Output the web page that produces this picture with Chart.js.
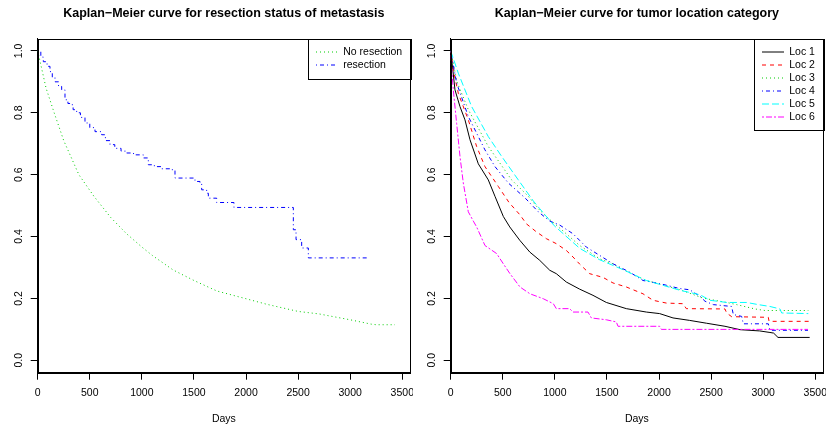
<!DOCTYPE html>
<html>
<head>
<meta charset="utf-8">
<script src="https://cdn.jsdelivr.net/npm/chart.js@4"></script>
<style>
  body { margin: 0; background: #fff; }
  .wrap { display: flex; width: 826px; height: 428px; }
  canvas { display: block; }
</style>
</head>
<body>
<div class="wrap">
  <canvas id="kmResection" width="413" height="428"></canvas>
  <canvas id="kmLocation" width="413" height="428"></canvas>
</div>
<script>
// axis ticks
const xTicks = [0, 500, 1000, 1500, 2000, 2500, 3000, 3500];
const yTicks = [0, 0.2, 0.4, 0.6, 0.8, 1.0];

// left plot: resection status
const noResDays = [0, 20, 80, 158, 250, 395, 540, 700, 850, 1000, 1100, 1300, 1500, 1720, 2000, 2200, 2500, 2700, 2840, 3000, 3200, 3250, 3430];
const noResSurv = [1, 0.97, 0.88, 0.80, 0.71, 0.60, 0.53, 0.462, 0.41, 0.366, 0.339, 0.292, 0.258, 0.224, 0.199, 0.181, 0.158, 0.150, 0.141, 0.131, 0.117, 0.115, 0.115];
const resDays = [0, 30, 54, 90, 118, 140, 166, 200, 230, 262, 290, 310, 340, 374, 410, 454, 500, 550, 614, 650, 694, 740, 800, 854, 920, 1014, 1062, 1120, 1190, 1286, 1318, 1510, 1558, 1574, 1622, 1638, 1718, 1884, 2454, 2480, 2534, 2598, 3174];
const resSurv = [1, 0.98, 0.965, 0.95, 0.933, 0.915, 0.90, 0.885, 0.874, 0.842, 0.83, 0.826, 0.81, 0.80, 0.785, 0.767, 0.752, 0.739, 0.729, 0.71, 0.697, 0.685, 0.676, 0.670, 0.664, 0.654, 0.632, 0.626, 0.619, 0.616, 0.589, 0.578, 0.573, 0.551, 0.540, 0.524, 0.510, 0.494, 0.422, 0.390, 0.363, 0.331, 0.331];

// right plot: tumor location
const loc1Days = [0, 20, 41, 89, 137, 185, 265, 361, 425, 505, 567, 663, 759, 855, 951, 1014, 1110, 1238, 1366, 1494, 1686, 1878, 2006, 2134, 2294, 2454, 2633, 2777, 2966, 3065, 3100, 3142, 3446];
const loc1Surv = [1, 0.94, 0.874, 0.82, 0.777, 0.713, 0.635, 0.583, 0.530, 0.465, 0.431, 0.388, 0.350, 0.323, 0.291, 0.280, 0.253, 0.230, 0.210, 0.187, 0.167, 0.156, 0.151, 0.137, 0.129, 0.120, 0.110, 0.099, 0.095, 0.090, 0.088, 0.074, 0.074];
const loc2Days = [0, 30, 73, 169, 249, 329, 457, 560, 665, 727, 823, 919, 1014, 1110, 1174, 1238, 1334, 1462, 1558, 1686, 1846, 1942, 2070, 2230, 2262, 2633, 2649, 2697, 3049, 3056, 3446];
const loc2Surv = [1, 0.93, 0.863, 0.777, 0.691, 0.626, 0.562, 0.51, 0.470, 0.441, 0.415, 0.393, 0.377, 0.355, 0.334, 0.311, 0.280, 0.268, 0.250, 0.237, 0.215, 0.194, 0.185, 0.183, 0.167, 0.166, 0.153, 0.141, 0.139, 0.126, 0.126];
const loc3Days = [0, 60, 169, 361, 585, 745, 855, 940, 1000, 1238, 1430, 1558, 1654, 1878, 2204, 2422, 2649, 2745, 2921, 3017, 3433];
const loc3Surv = [1, 0.90, 0.81, 0.691, 0.583, 0.530, 0.485, 0.458, 0.441, 0.371, 0.328, 0.312, 0.293, 0.258, 0.228, 0.201, 0.187, 0.180, 0.166, 0.161, 0.161];
const loc4Days = [0, 57, 169, 329, 425, 553, 713, 841, 951, 1047, 1174, 1302, 1430, 1558, 1718, 1846, 2006, 2198, 2294, 2393, 2441, 2521, 2697, 2713, 2793, 2809, 3049, 3065, 3430];
const loc4Surv = [1, 0.896, 0.788, 0.680, 0.626, 0.573, 0.525, 0.48, 0.45, 0.437, 0.409, 0.366, 0.339, 0.312, 0.285, 0.258, 0.248, 0.232, 0.228, 0.207, 0.191, 0.180, 0.174, 0.148, 0.142, 0.118, 0.118, 0.097, 0.097];
const loc5Days = [0, 73, 201, 361, 489, 649, 793, 855, 994, 1238, 1430, 1654, 1878, 2204, 2393, 2489, 2649, 2841, 2953, 3065, 3161, 3177, 3433];
const loc5Surv = [1, 0.928, 0.820, 0.723, 0.659, 0.583, 0.515, 0.49, 0.435, 0.362, 0.325, 0.293, 0.258, 0.226, 0.212, 0.194, 0.187, 0.187, 0.180, 0.174, 0.166, 0.153, 0.151];
const loc6Days = [0, 3, 25, 57, 89, 121, 169, 217, 249, 329, 441, 505, 569, 665, 761, 889, 985, 1014, 1142, 1174, 1318, 1350, 1494, 1590, 1606, 2006, 2022, 3430];
const loc6Surv = [1, 0.97, 0.874, 0.766, 0.659, 0.573, 0.48, 0.45, 0.431, 0.371, 0.345, 0.312, 0.280, 0.237, 0.215, 0.199, 0.183, 0.167, 0.167, 0.156, 0.156, 0.137, 0.131, 0.124, 0.110, 0.110, 0.100, 0.100];

Chart.defaults.font.family = '"Liberation Sans", Arial, Helvetica, sans-serif';
Chart.defaults.color = '#000';

function toPoints(days, surv) {
  return days.map((d, i) => ({ x: d, y: surv[i] }));
}

// legend items take the point style, so put the line dash back on them
function dashedLabels(chart) {
  const items = Chart.defaults.plugins.legend.labels.generateLabels(chart);
  items.forEach(item => {
    const ds = chart.data.datasets[item.datasetIndex];
    item.lineDash = ds.borderDash;
    item.strokeStyle = ds.borderColor;
    item.lineWidth = 1;
  });
  return items;
}

// R-ish frame: box round plot, box round legend, title centred on plot region
function rFrame(box) {
  return {
    id: 'rFrame',
    beforeDraw(chart) {
      const ca = chart.chartArea;
      chart.titleBlock.left = ca.left;
      chart.titleBlock.right = ca.right;
      const lg = chart.legend;
      const pad = lg.options.labels.padding;
      lg.left = ca.right - box.w + box.inset - pad;
      lg.right = ca.right;
      lg.top = ca.top + 13.5 - 5.25 - pad;
      lg.bottom = lg.top + 200;
    },
    afterDraw(chart) {
      const ca = chart.chartArea;
      const ctx = chart.ctx;
      ctx.save();
      ctx.strokeStyle = '#000';
      ctx.lineWidth = 1;
      const l = Math.round(ca.left) + 0.5, t = Math.round(ca.top) + 0.5;
      const r = Math.round(ca.right) + 0.5, b = Math.round(ca.bottom) + 0.5;
      ctx.strokeRect(l, t, r - l, b - t);
      ctx.strokeRect(Math.round(r - box.w) + 0.5, t, Math.round(box.w), Math.round(box.h));
      ctx.restore();
    }
  };
}

function kmChart(id, titleText, datasets, box) {
  return new Chart(document.getElementById(id), {
    type: 'line',
    data: { datasets: datasets },
    options: {
      responsive: false,
      animation: false,
      devicePixelRatio: 1,
      layout: { padding: { left: 0, right: 3, top: 0, bottom: 0 } },
      elements: { point: { radius: 0 }, line: { borderWidth: 1, tension: 0, fill: false } },
      plugins: {
        title: {
          display: true, text: titleText, color: '#000',
          font: { size: 12.5, weight: 'bold' },
          padding: { top: 6.5, bottom: 17 }
        },
        legend: {
          position: 'chartArea', align: 'start',
          labels: {
            usePointStyle: true, pointStyle: 'line', pointStyleWidth: 22,
            padding: 2.5, color: '#000', font: { size: 10.5 },
            generateLabels: dashedLabels,
            sort: (a, b) => a.datasetIndex - b.datasetIndex
          }
        },
        tooltip: { enabled: false }
      },
      scales: {
        x: {
          type: 'linear', min: 0, max: 3574,
          afterBuildTicks: s => { s.ticks = xTicks.map(v => ({ value: v })); },
          afterFit: s => { s.height = 55.3; s.paddingLeft = 0; s.paddingRight = 0; },
          grid: { drawOnChartArea: false, tickLength: 7, color: '#000' },
          border: { color: '#000' },
          ticks: { autoSkip: false, maxRotation: 0, padding: 7, color: '#000', font: { size: 10.5 }, callback: v => String(v) },
          title: { display: true, text: 'Days', color: '#000', font: { size: 10.5 }, padding: { top: 0, bottom: 3 } }
        },
        y: {
          type: 'linear', min: -0.04, max: 1.04,
          afterBuildTicks: s => { s.ticks = yTicks.map(v => ({ value: v })); },
          afterFit: s => { s.width = 37.7; s.paddingTop = 0; s.paddingBottom = 0; },
          grid: { drawOnChartArea: false, tickLength: 7, color: '#000' },
          border: { color: '#000' },
          ticks: { autoSkip: false, minRotation: 90, maxRotation: 90, crossAlign: 'center', padding: 4, color: '#000', font: { size: 10.5 }, callback: v => v.toFixed(1) }
        }
      }
    },
    plugins: [rFrame(box)]
  });
}

kmChart('kmResection', 'Kaplan\u2212Meier curve for resection status of metastasis', [
  { label: 'No resection', data: toPoints(noResDays, noResSurv), borderColor: '#00CD00', backgroundColor: '#00CD00', borderDash: [1, 3], order: 1 },
  { label: 'resection', data: toPoints(resDays, resSurv), borderColor: '#0000FF', backgroundColor: '#0000FF', borderDash: [1, 3, 4, 3], stepped: 'before', order: 0 }
], { w: 103, h: 40, inset: 9 });

kmChart('kmLocation', 'Kaplan\u2212Meier curve for tumor location category', [
  { label: 'Loc 1', data: toPoints(loc1Days, loc1Surv), borderColor: '#000000', backgroundColor: '#000000', borderDash: [], order: 5 },
  { label: 'Loc 2', data: toPoints(loc2Days, loc2Surv), borderColor: '#FF0000', backgroundColor: '#FF0000', borderDash: [4, 4], order: 4 },
  { label: 'Loc 3', data: toPoints(loc3Days, loc3Surv), borderColor: '#00CD00', backgroundColor: '#00CD00', borderDash: [1, 3], order: 3 },
  { label: 'Loc 4', data: toPoints(loc4Days, loc4Surv), borderColor: '#0000FF', backgroundColor: '#0000FF', borderDash: [1, 3, 4, 3], order: 2 },
  { label: 'Loc 5', data: toPoints(loc5Days, loc5Surv), borderColor: '#00FFFF', backgroundColor: '#00FFFF', borderDash: [7, 3], order: 1 },
  { label: 'Loc 6', data: toPoints(loc6Days, loc6Surv), borderColor: '#FF00FF', backgroundColor: '#FF00FF', borderDash: [2, 2, 6, 2], order: 0 }
], { w: 70, h: 91, inset: 9 });
</script>
</body>
</html>
